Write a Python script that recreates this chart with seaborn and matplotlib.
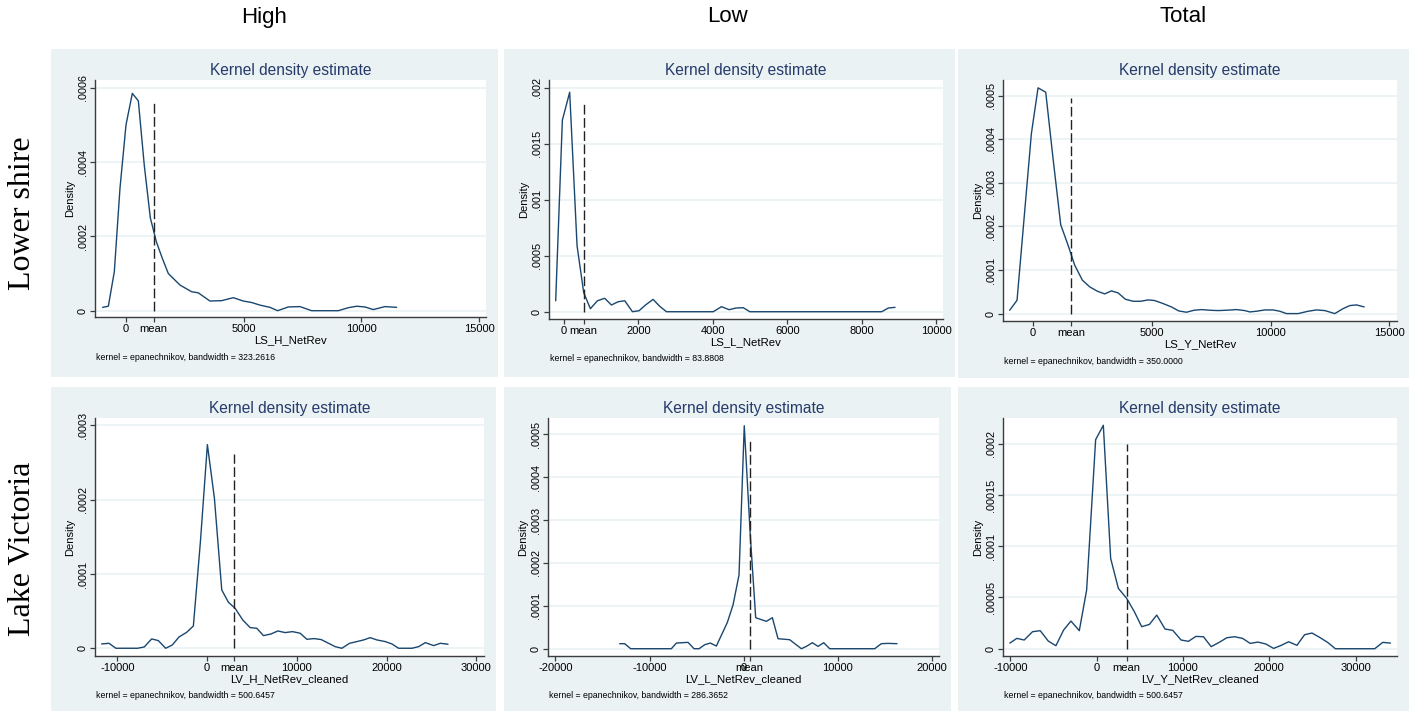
import matplotlib
matplotlib.use("Agg")
import matplotlib.pyplot as plt
import seaborn as sns
import pandas as pd
from matplotlib.patches import Rectangle

# ---------------- data ----------------
col_titles = ["High", "Low", "Total"]
row_titles = ["Lower shire", "Lake Victoria"]
var_names = ["LS_H_NetRev", "LS_L_NetRev", "LS_Y_NetRev",
             "LV_H_NetRev_cleaned", "LV_L_NetRev_cleaned", "LV_Y_NetRev_cleaned"]
bandwidths = ["323.2616", "83.8808", "350.0000", "500.6457", "286.3652", "500.6457"]
means = [1175, 529, 1615, 3048, 637, 3481]
mean_tops = [560e-6, 1875e-6, 495e-6, 262e-6, 487e-6, 199.3e-6]

ls_h_x = [-991, -750, -496, -255, 0, 269, 524, 779, 1034, 1288, 1543, 1798, 2294, 2790, 3073,
          3568, 4064, 4560, 4984, 5338, 5692, 6117, 6443, 6896, 7392, 7887, 8454, 9020, 9445,
          9799, 10153, 10507, 11003, 11498]
ls_h_y = [9e-6, 12e-6, 105e-6, 330e-6, 500e-6, 585e-6, 565e-6, 390e-6, 250e-6, 186e-6, 141e-6,
          100e-6, 69e-6, 51e-6, 48e-6, 26e-6, 27e-6, 35e-6, 26e-6, 22e-6, 15e-6, 9e-6, 0, 10e-6,
          11e-6, 0, 0, 0, 8e-6, 12e-6, 10e-6, 3e-6, 11e-6, 9e-6]

ls_l_x = [-224, -45, 152, 350, 529, 709, 897, 1094, 1274, 1453, 1633, 1839, 2018, 2198, 2395,
          2574, 2754, 4010, 4234, 4440, 4620, 4817, 4996, 8539, 8719, 8898]
ls_l_y = [98e-6, 1710e-6, 1960e-6, 590e-6, 170e-6, 27e-6, 98e-6, 120e-6, 60e-6, 89e-6, 98e-6,
          0, 9e-6, 62e-6, 110e-6, 48e-6, 0, 0, 45e-6, 18e-6, 33e-6, 36e-6, 0, 0, 33e-6, 39e-6]

ls_y_x = [-983, -674, -70, 211, 534, 842, 1165, 1474, 1755, 2078, 2387, 2710, 3019, 3300, 3581,
          3889, 4212, 4535, 4844, 5125, 5476, 5827, 6136, 6459, 6782, 7091, 7442, 7793, 8144,
          8565, 8916, 9127, 9408, 9759, 10110, 10391, 10672, 11163, 11584, 11935, 12286, 12707,
          13058, 13339, 13620, 13943]
ls_y_y = [7.7e-6, 30.6e-6, 413e-6, 518e-6, 508e-6, 356e-6, 204e-6, 157e-6, 111e-6, 76.6e-6,
          61.3e-6, 51.3e-6, 45.2e-6, 52.1e-6, 47.5e-6, 32.9e-6, 28.3e-6, 28.3e-6, 31.4e-6,
          29.9e-6, 23e-6, 15.3e-6, 6.1e-6, 3.1e-6, 7.7e-6, 9.2e-6, 7.7e-6, 6.9e-6, 7.7e-6,
          9.2e-6, 6.9e-6, 3.8e-6, 5.4e-6, 8.4e-6, 8.4e-6, 5.4e-6, 0, 0, 5.4e-6, 8.4e-6, 6.9e-6,
          0, 11.5e-6, 18.4e-6, 19.9e-6, 15.3e-6]

lv_h_x = [-11746, -10929, -10148, -9144, -7731, -6988, -6170, -5427, -4609, -3866, -3122, -2267,
          -1524, -743, 37, 818, 1636, 2379, 3122, 3977, 4795, 5538, 6281, 7137, 7880, 8698, 9516,
          10371, 11114, 11932, 12713, 13530, 14274, 15017, 15872, 16690, 17433, 18177, 18920,
          19849, 20593, 21336, 22823, 23566, 24310, 25239, 25982, 26837]
lv_h_y = [5.8e-6, 6.7e-6, 0, 0, 0, 1.8e-6, 12.6e-6, 10.3e-6, 0, 4.5e-6, 15.2e-6, 21.5e-6, 30e-6,
          143e-6, 274e-6, 202e-6, 78.5e-6, 61.9e-6, 53.8e-6, 38.1e-6, 27.8e-6, 26.9e-6, 17e-6,
          19.3e-6, 23.3e-6, 21.1e-6, 22.4e-6, 20.2e-6, 12.1e-6, 13e-6, 11.7e-6, 6.7e-6, 2.2e-6,
          0, 6.7e-6, 9e-6, 11.2e-6, 14.3e-6, 11.2e-6, 9e-6, 5.8e-6, 0, 0, 2.2e-6, 7.6e-6,
          3.6e-6, 6.7e-6, 5.4e-6]

lv_l_x = [-13168, -12637, -12000, -7681, -7150, -5911, -5274, -4743, -4142, -3540, -2903, -1735,
          -1133, -496, 60, 708, 1274, 2407, 3044, 3646, 4885, 6124, 6655, 7292, 7894, 8496, 9133,
          13912, 14620, 15328, 16283]
lv_l_y = [11.7e-6, 11.7e-6, 0, 0, 13.2e-6, 14.8e-6, 0, 0, 9.3e-6, 13.2e-6, 6.2e-6, 61.4e-6,
          102e-6, 172e-6, 520e-6, 261e-6, 72.3e-6, 63.8e-6, 72.3e-6, 23.3e-6, 21e-6, 0, 5.4e-6,
          14e-6, 5.4e-6, 14e-6, 0, 0, 11.7e-6, 12.4e-6, 11.7e-6]

lv_y_x = [-10058, -9246, -8395, -7428, -6538, -5609, -4720, -3830, -2979, -2011, -1160, -116, 774,
          1625, 2514, 3481, 4371, 5222, 6112, 6963, 7930, 8820, 9787, 10638, 11489, 12379, 13268,
          14196, 15086, 15976, 16904, 17794, 18684, 19612, 20502, 21392, 22243, 23210, 24100,
          24951, 25918, 26808, 27659, 32224, 33152, 34042]
lv_y_y = [5.5e-6, 10.1e-6, 8.5e-6, 16.6e-6, 17.6e-6, 7.5e-6, 2.9e-6, 18.2e-6, 27e-6, 17.6e-6,
          57.2e-6, 204e-6, 218e-6, 88.1e-6, 58.9e-6, 49.1e-6, 36.1e-6, 21.5e-6, 23.7e-6, 32.8e-6,
          19.2e-6, 17.9e-6, 8.5e-6, 7.2e-6, 12e-6, 11.7e-6, 2e-6, 6.2e-6, 10.7e-6, 11.7e-6,
          10.1e-6, 5.2e-6, 6.5e-6, 4.6e-6, 0.3e-6, 3.3e-6, 6.8e-6, 3.3e-6, 13.7e-6, 15.3e-6,
          10.7e-6, 5.9e-6, 0, 0, 6.2e-6, 5.5e-6]

series_x = [ls_h_x, ls_l_x, ls_y_x, lv_h_x, lv_l_x, lv_y_x]
series_y = [ls_h_y, ls_l_y, ls_y_y, lv_h_y, lv_l_y, lv_y_y]

x_ticks = [[0, 5000, 10000, 15000],
           [0, 2000, 4000, 6000, 8000, 10000],
           [0, 5000, 10000, 15000],
           [-10000, 0, 10000, 20000, 30000],
           [-20000, -10000, 0, 10000, 20000],
           [-10000, 0, 10000, 20000, 30000]]
y_ticks = [[0, 0.0002, 0.0004, 0.0006],
           [0, 0.0005, 0.001, 0.0015, 0.002],
           [0, 0.0001, 0.0002, 0.0003, 0.0004, 0.0005],
           [0, 0.0001, 0.0002, 0.0003],
           [0, 0.0001, 0.0002, 0.0003, 0.0004, 0.0005],
           [0, 0.00005, 0.0001, 0.00015, 0.0002]]

# ---------------- layout (pixels) ----------------
W, H = 1414, 713
panel_boxes = [(51, 49, 498, 377), (504, 49, 955, 377), (958, 49, 1409, 378),
               (51, 387, 496, 711), (504, 387, 951, 711), (958, 387, 1409, 711)]
axes_boxes = [(95, 80, 486, 317), (549, 80, 943, 319), (1003, 80, 1397, 321),
              (95, 418, 484, 656), (548, 418, 939, 656), (1003, 418, 1397, 656)]
x_lims = [(-1317, 15297), (-404, 10188), (-1265, 15325),
          (-12481, 30846), (-20782, 20740), (-10851, 34804)]
y_lims = [(-17e-6, 621e-6), (-65e-6, 2069e-6), (-17e-6, 536e-6),
          (-10.4e-6, 309.8e-6), (-17e-6, 538e-6), (-7.1e-6, 225.1e-6)]

sns.set_style("white")
plt.rcParams["font.family"] = ["Liberation Sans", "DejaVu Sans"]

BG = "#EAF2F3"
LINE = "#1a476f"
TITLE = "#263a6b"
AX = "#3c3c3c"


def stata_fmt(v):
    if v == 0:
        return "0"
    s = f"{v:.6f}".rstrip("0")
    return s.lstrip("0") if v > 0 else s


fig = plt.figure(figsize=(W / 100, H / 100), dpi=100)
fig.patch.set_facecolor("white")

for i in range(6):
    x0, y0, x1, y1 = panel_boxes[i]
    fig.patches.append(Rectangle((x0 / W, 1 - y1 / H), (x1 - x0) / W, (y1 - y0) / H,
                                 transform=fig.transFigure, facecolor=BG,
                                 edgecolor="none", zorder=-5))
    l, t, r, b = axes_boxes[i]
    ax = fig.add_axes([l / W, 1 - b / H, (r - l) / W, (b - t) / H])
    ax.set_zorder(2)
    ax.set_facecolor("white")

    df = pd.DataFrame({"x": series_x[i], "y": series_y[i]})
    sns.lineplot(data=df, x="x", y="y", ax=ax, color=LINE, linewidth=1.0,
                 sort=False, estimator=None, zorder=3)
    ax.vlines(means[i], 0, mean_tops[i], colors="#222222", linewidth=1.0,
              linestyles=(0, (7, 2.5)), zorder=4)

    ax.set_xlim(*x_lims[i])
    ax.set_ylim(*y_lims[i])

    xt = sorted(x_ticks[i] + [means[i]])
    ax.set_xticks(xt)
    ax.set_xticklabels(["mean" if v == means[i] else str(v) for v in xt], fontsize=8)
    ax.set_yticks(y_ticks[i])
    ax.set_yticklabels([stata_fmt(v) for v in y_ticks[i]], fontsize=7.8,
                       rotation=90, va="center")
    ax.grid(axis="y", color=BG, linewidth=1.2, zorder=1)
    ax.grid(axis="x", visible=False)
    ax.set_axisbelow(True)

    for s in ["top", "right"]:
        ax.spines[s].set_visible(False)
    for s in ["left", "bottom"]:
        ax.spines[s].set_visible(True)
        ax.spines[s].set_color(AX)
        ax.spines[s].set_linewidth(1.0)
    ax.tick_params(axis="both", direction="out", length=3.8, width=0.9, color=AX,
                   labelcolor="black", pad=1.5, bottom=True, left=True)

    ax.set_xlabel(var_names[i], fontsize=8.2, labelpad=0.5, color="black")
    ax.set_ylabel("Density", fontsize=8, labelpad=2, color="black")
    ax.set_title("Kernel density estimate", fontsize=11.2, color=TITLE, pad=3.5)

    fig.text(l / W + 0.001, 1 - (b + 40) / H,
             f"kernel = epanechnikov, bandwidth = {bandwidths[i]}",
             fontsize=6.3, color="black", va="center", ha="left", zorder=5)

# column headers
for cx, txt in zip([264, 727, 1183], col_titles):
    fig.text(cx / W, 1 - 17 / H, txt, fontsize=16, ha="center", va="center", color="black")

# row headers
for cy, txt in zip([213, 549], row_titles):
    fig.text(23 / W, 1 - cy / H, txt, fontsize=23, ha="center", va="center",
             rotation=90, family=["Liberation Serif", "DejaVu Serif"], color="black")

fig.savefig("out.png", dpi=100, facecolor="white")
